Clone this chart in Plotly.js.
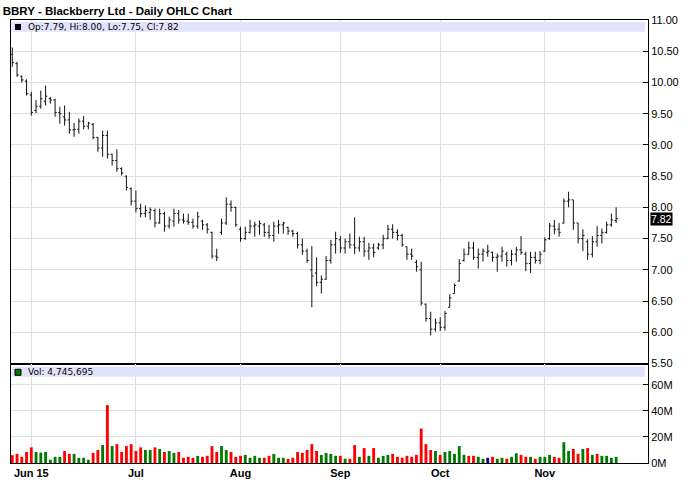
<!DOCTYPE html>
<html>
<head>
<meta charset="utf-8">
<script src="https://cdn.plot.ly/plotly-3.0.1.min.js"></script>
<style>html,body{margin:0;padding:0;background:#fff;}#chart{width:688px;height:503px;}</style>
</head>
<body>
<div id="chart"></div>
<script>
const dates = [
'2015-05-26','2015-05-27','2015-05-28','2015-05-29',
'2015-06-01','2015-06-02','2015-06-03','2015-06-04','2015-06-05','2015-06-08','2015-06-09','2015-06-10','2015-06-11','2015-06-12',
'2015-06-15','2015-06-16','2015-06-17','2015-06-18','2015-06-19','2015-06-22','2015-06-23','2015-06-24','2015-06-25','2015-06-26','2015-06-29','2015-06-30',
'2015-07-01','2015-07-02','2015-07-06','2015-07-07','2015-07-08','2015-07-09','2015-07-10','2015-07-13','2015-07-14','2015-07-15','2015-07-16','2015-07-17',
'2015-07-20','2015-07-21','2015-07-22','2015-07-23','2015-07-24','2015-07-27','2015-07-28','2015-07-29','2015-07-30','2015-07-31',
'2015-08-03','2015-08-04','2015-08-05','2015-08-06','2015-08-07','2015-08-10','2015-08-11','2015-08-12','2015-08-13','2015-08-14',
'2015-08-17','2015-08-18','2015-08-19','2015-08-20','2015-08-21','2015-08-24','2015-08-25','2015-08-26','2015-08-27','2015-08-28','2015-08-31',
'2015-09-01','2015-09-02','2015-09-03','2015-09-04','2015-09-08','2015-09-09','2015-09-10','2015-09-11','2015-09-14','2015-09-15','2015-09-16','2015-09-17','2015-09-18',
'2015-09-21','2015-09-22','2015-09-23','2015-09-24','2015-09-25','2015-09-28','2015-09-29','2015-09-30',
'2015-10-01','2015-10-02','2015-10-05','2015-10-06','2015-10-07','2015-10-08','2015-10-09','2015-10-12','2015-10-13','2015-10-14','2015-10-15','2015-10-16',
'2015-10-19','2015-10-20','2015-10-21','2015-10-22','2015-10-23','2015-10-26','2015-10-27','2015-10-28','2015-10-29','2015-10-30',
'2015-11-02','2015-11-03','2015-11-04','2015-11-05','2015-11-06','2015-11-09','2015-11-10','2015-11-11','2015-11-12','2015-11-13',
'2015-11-16','2015-11-17','2015-11-18','2015-11-19','2015-11-20','2015-11-23'
];

const open = [
10.45,10.30,10.10,10.02,9.80,9.55,9.62,9.70,9.74,9.72,
9.52,9.45,9.40,9.24,9.25,9.38,9.30,9.33,9.12,8.95,
9.15,8.85,8.75,8.62,8.50,8.30,8.10,7.98,7.90,7.92,
7.95,7.75,7.90,7.70,7.78,7.90,7.80,7.78,7.76,7.70,
7.78,7.72,7.60,7.22,7.60,7.75,8.05,8.00,7.65,7.50,
7.60,7.70,7.70,7.72,7.60,7.55,7.70,7.72,7.68,7.62,
7.58,7.40,7.30,7.00,6.95,6.80,6.85,7.15,7.40,7.48,
7.35,7.45,7.40,7.35,7.45,7.30,7.35,7.35,7.40,7.50,
7.65,7.60,7.55,7.37,7.25,7.12,7.00,6.45,6.22,6.05,
6.15,6.08,6.40,6.62,6.82,7.15,7.25,7.35,7.20,7.25,
7.28,7.28,7.20,7.22,7.25,7.15,7.25,7.32,7.25,7.10,
7.20,7.15,7.30,7.50,7.70,7.65,7.75,8.10,8.12,7.75,
7.50,7.45,7.25,7.45,7.55,7.60,7.72,7.79
];
const high = [
10.56,10.33,10.11,10.05,9.85,9.72,9.87,9.95,9.77,9.74,
9.61,9.63,9.53,9.35,9.42,9.46,9.37,9.35,9.13,9.23,
9.23,8.86,8.93,8.64,8.51,8.32,8.27,8.06,8.03,8.00,
7.98,7.98,7.93,7.85,7.98,7.96,7.90,7.90,7.82,7.93,
7.80,7.75,7.61,7.34,7.82,8.16,8.11,8.01,7.69,7.69,
7.80,7.77,7.79,7.75,7.72,7.77,7.80,7.77,7.69,7.64,
7.61,7.50,7.34,7.38,7.20,6.91,7.22,7.48,7.61,7.54,
7.50,7.58,7.84,7.53,7.53,7.43,7.42,7.43,7.56,7.72,
7.73,7.65,7.58,7.37,7.34,7.16,7.13,6.46,6.33,6.22,
6.24,6.34,6.61,6.78,7.17,7.34,7.45,7.45,7.34,7.34,
7.40,7.29,7.26,7.37,7.29,7.32,7.37,7.54,7.29,7.29,
7.29,7.30,7.52,7.75,7.80,7.75,8.14,8.25,8.12,7.75,
7.65,7.49,7.54,7.70,7.66,7.77,7.90,8.00
];
const low = [
10.25,10.09,10.00,9.79,9.47,9.51,9.58,9.63,9.66,9.45,
9.34,9.31,9.18,9.13,9.18,9.25,9.25,9.09,8.89,8.81,
8.78,8.67,8.57,8.51,8.27,8.03,7.92,7.84,7.84,7.80,
7.68,7.74,7.61,7.66,7.69,7.74,7.74,7.72,7.66,7.66,
7.64,7.58,7.18,7.14,7.56,7.72,7.93,7.69,7.45,7.48,
7.58,7.53,7.56,7.53,7.50,7.45,7.58,7.58,7.56,7.53,
7.34,7.24,7.11,6.40,6.74,6.62,6.84,7.10,7.26,7.27,
7.26,7.34,7.25,7.29,7.21,7.16,7.20,7.32,7.33,7.49,
7.50,7.47,7.37,7.16,7.16,6.97,6.43,6.17,5.95,6.01,
6.02,6.03,6.40,6.62,6.81,7.13,7.24,7.16,7.02,7.13,
7.21,7.13,6.97,7.13,7.05,7.07,7.13,7.24,6.98,6.95,
7.10,7.09,7.29,7.48,7.57,7.53,7.74,8.00,7.64,7.42,
7.30,7.16,7.20,7.37,7.42,7.58,7.69,7.75
];
const close = [
10.32,10.12,10.04,9.82,9.52,9.62,9.74,9.78,9.72,9.52,
9.50,9.40,9.24,9.25,9.38,9.30,9.35,9.12,8.95,9.15,
8.85,8.75,8.62,8.55,8.32,8.10,7.98,7.90,7.95,7.96,
7.75,7.90,7.70,7.80,7.90,7.80,7.78,7.76,7.70,7.85,
7.72,7.65,7.22,7.20,7.75,8.05,8.00,7.72,7.50,7.60,
7.70,7.72,7.74,7.60,7.55,7.70,7.72,7.75,7.62,7.58,
7.40,7.30,7.15,6.90,6.80,6.85,7.15,7.40,7.50,7.35,
7.45,7.40,7.35,7.45,7.30,7.35,7.28,7.40,7.50,7.65,
7.60,7.55,7.40,7.25,7.22,7.05,6.47,6.22,6.05,6.15,
6.08,6.30,6.55,6.75,7.10,7.25,7.35,7.20,7.25,7.30,
7.30,7.20,7.22,7.30,7.15,7.25,7.32,7.28,7.10,7.20,
7.15,7.25,7.48,7.70,7.65,7.60,8.10,8.12,7.75,7.50,
7.55,7.25,7.45,7.55,7.60,7.72,7.80,7.82
];
// volume in millions of shares
const volume = [
6,7,4.75,8.5,12,8.5,8,8.5,2.5,4.75,
4.75,9.25,7,7,4,4,2.5,7.75,10,13.75,
44.5,13,14.5,8.5,13,14.5,9.25,12,10,10,
12,10.75,8.5,9.25,7.75,8.5,4,4.75,4,5.5,
4.75,5.5,13,8.5,13,10,8.5,4.75,5.5,6.25,
4,5.5,4,4,5.5,7,4,4,3.25,4,
8.5,7.75,10,14.5,9.25,6.25,7.75,7,5.5,5.5,
3.25,3.25,13.75,4.75,11.5,5.5,11.5,4,5.5,6.25,
7,4.75,4,5.5,4.75,6.25,26.5,14.5,10,9.25,
6.25,8.5,9.25,7,13,6.25,5.5,5.5,4.75,3.25,
4,4.75,3.25,4,3.25,4.75,7.5,6.25,4.75,4.75,
3.25,4.75,4.75,6.25,4.75,4,16,9.25,10.75,7,
10.75,11.5,6.25,7,5.5,5.5,4,4.745695
];
// volume bar direction: u = up, d = down, n = unchanged
const volDir = [
'd','d','d','d','d','u','u','u','u','u',
'u','d','d','u','u','u','u','d','d','u',
'd','u','d','d','d','d','d','d','u','u',
'd','u','d','u','u','d','d','d','d','u',
'd','d','d','d','u','u','d','d','d','u',
'u','u','u','d','d','u','u','u','d','d',
'd','d','d','d','d','u','u','u','u','d',
'u','d','d','u','d','u','d','u','u','u',
'd','d','d','d','d','d','d','d','d','u',
'd','u','u','u','u','u','d','d','u','u',
'n','d','u','u','d','u','u','d','d','u',
'd','u','u','u','d','d','u','u','d','d',
'u','d','u','d','u','u','u','u'
];
const monthTickDates = ['2015-06-01','2015-07-01','2015-08-03','2015-09-01','2015-10-01','2015-11-02'];
const monthTickText = ['Jun 15','Jul','Aug','Sep','Oct','Nov'];
const priceTicks = [5.5,6,6.5,7,7.5,8,8.5,9,9.5,10,10.5,11];
const volTicks = [0,20,40,60];
const volTickText = ['0M','20M','40M','60M'];

const n = close.length;
const last = n - 1;
const dirColor = {u:'#007a00', d:'#ff0000', n:'#000080'};
const F = 'Liberation Sans, Arial, sans-serif';
const FV = 'DejaVu Sans, Verdana, sans-serif';

const traces = [
  {
    type:'ohlc', x:dates, open:open, high:high, low:low, close:close,
    xaxis:'x', yaxis:'y',
    increasing:{line:{color:'#111', width:1}},
    decreasing:{line:{color:'#111', width:1}},
    tickwidth:0.35, hoverinfo:'skip', showlegend:false
  },
  {
    type:'bar', x:dates, y:volume, xaxis:'x2', yaxis:'y2',
    marker:{color:volDir.map(d => dirColor[d]), line:{width:0}},
    width:0.6, hoverinfo:'skip', showlegend:false
  }
];

const H = 443, TOP = 20;
const py = px => (TOP + H - px) / H;   // pixel row -> paper y
const W = 637, LEFT = 11;
const pxX = px => (px - LEFT) / W;

const commonX = {
  type:'category', range:[-0.27, 133.7], tickvals:monthTickDates, ticktext:monthTickText,
  showgrid:true, gridcolor:'#dedede', gridwidth:1, showline:true, linecolor:'#000', linewidth:1,
  mirror:true, ticks:'', zeroline:false, fixedrange:true
};

const layout = {
  width:688, height:503,
  margin:{l:LEFT, r:40, t:TOP, b:40},
  paper_bgcolor:'#fff', plot_bgcolor:'#fff',
  showlegend:false,
  title:{text:'BBRY - Blackberry Ltd - Daily OHLC Chart', x:0.004, xref:'container', xanchor:'left',
         y:1 - 11/503, yref:'container', yanchor:'middle',
         font:{family:F, size:11.5, color:'#000', weight:'bold'}},
  xaxis:Object.assign({}, commonX, {anchor:'y', domain:[0,1], showticklabels:false, rangeslider:{visible:false}}),
  xaxis2:Object.assign({}, commonX, {anchor:'y2', domain:[0,1], matches:'x', showticklabels:true,
         tickfont:{family:F, size:11, color:'#000', weight:'bold'}}),
  yaxis:{domain:[py(363.5),1], anchor:'x', side:'right', range:[5.5,11], tickvals:priceTicks,
         tickformat:'.2f', ticks:'inside', ticklen:5, tickcolor:'#000', showline:true, linecolor:'#000',
         mirror:true, showgrid:true, gridcolor:'#dedede', zeroline:false,
         tickfont:{family:F, size:11, color:'#000'}, fixedrange:true},
  yaxis2:{domain:[0,py(364)], anchor:'x2', side:'right', range:[0,76.1], tickmode:'array',
         tickvals:volTicks, ticktext:volTickText, ticks:'inside', ticklen:5, tickcolor:'#000',
         showline:true, linecolor:'#000', mirror:true, showgrid:true, gridcolor:'#dedede', zeroline:false,
         tickfont:{family:F, size:11, color:'#000'}, fixedrange:true},
  shapes:[
    {type:'rect', xref:'paper', yref:'paper', x0:pxX(11.5), x1:pxX(645), y0:py(31.7), y1:py(21.7),
     fillcolor:'#e2e2fa', line:{width:0}},
    {type:'rect', xref:'paper', yref:'paper', x0:pxX(11.5), x1:pxX(645), y0:py(376.7), y1:py(366.7),
     fillcolor:'#e2e2fa', line:{width:0}},
    {type:'rect', xref:'paper', yref:'paper', x0:pxX(15), x1:pxX(21), y0:py(30), y1:py(24),
     fillcolor:'#000', line:{width:0}},
    {type:'rect', xref:'paper', yref:'paper', x0:pxX(15), x1:pxX(21), y0:py(375.3), y1:py(369.3),
     fillcolor:'#007a00', line:{color:'#000', width:1}}
  ],
  annotations:[
    {xref:'paper', yref:'paper', x:pxX(26), y:py(27), xanchor:'left', yanchor:'middle', showarrow:false,
     text:'Op:' + open[last].toFixed(2) + ', Hi:' + high[last].toFixed(2) + ', Lo:' + low[last].toFixed(2) + ', Cl:' + close[last].toFixed(2),
     font:{family:FV, size:9, color:'#000'}},
    {xref:'paper', yref:'paper', x:pxX(26), y:py(372), xanchor:'left', yanchor:'middle', showarrow:false,
     text:'Vol: ' + Math.round(volume[last]*1e6).toLocaleString('en-US'),
     font:{family:FV, size:9, color:'#000'}},
    {xref:'paper', yref:'y', x:1, xshift:2, y:close[last], xanchor:'left', yanchor:'middle', showarrow:false,
     text:close[last].toFixed(2), bgcolor:'#000', borderpad:0,
     font:{family:F, size:10.5, color:'#fff'}}
  ]
};

Plotly.newPlot('chart', traces, layout, {staticPlot:true, displayModeBar:false});
</script>
</body>
</html>
